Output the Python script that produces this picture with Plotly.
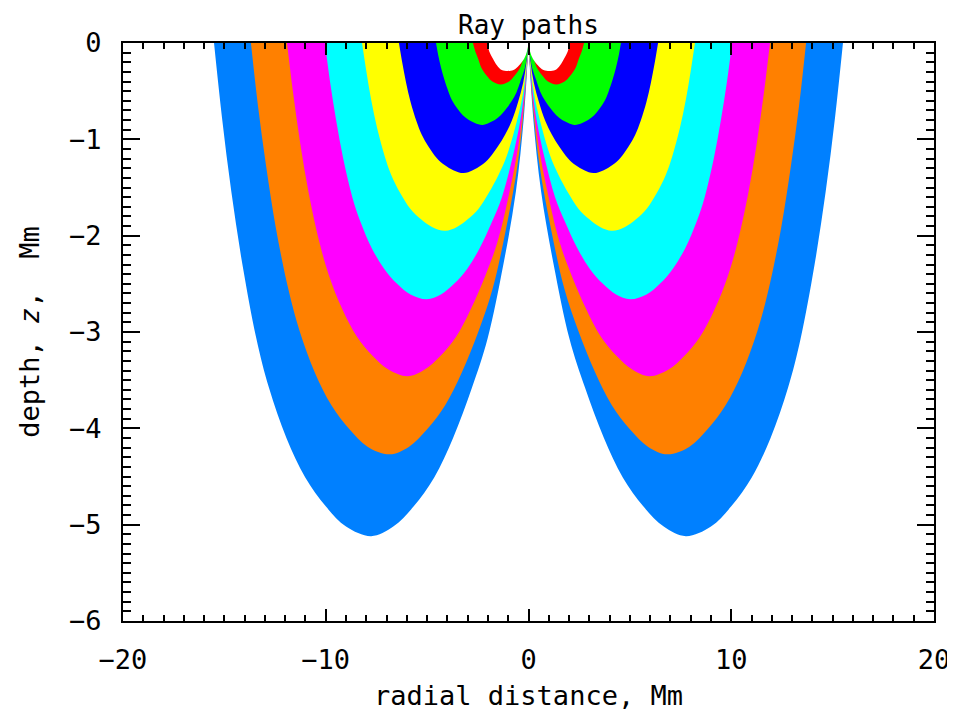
import plotly.graph_objects as go

# ---- data: right-half boundary ray of each colour band (x = radial distance, z = depth, Mm);
#      the left half of the figure is the mirror image ----
band_colors = ["#0080FF", "#FF8000", "#FF00FF", "#00FFFF", "#FFFF00", "#0000FF", "#00FF00", "#FF0000", "#FFFFFF"]

ray_lb_x = [0, 0.23, 0.62, 1.24, 2.02, 2.79, 3.72, 4.65, 5.66, 6.67, 7.76, 9.00, 10.00, 11.01, 11.94, 12.80, 13.42, 14.11, 14.66, 15.12, 15.51]
ray_lb_z = [0, -0.77, -1.54, -2.30, -3.07, -3.58, -4.10, -4.51, -4.81, -5.02, -5.12, -5.02, -4.81, -4.51, -4.10, -3.58, -3.07, -2.30, -1.54, -0.77, 0]

ray_or_x = [0, 0.21, 0.55, 1.10, 1.78, 2.46, 3.29, 4.11, 5.00, 5.89, 6.85, 7.94, 8.83, 9.72, 10.54, 11.29, 11.84, 12.46, 12.94, 13.35, 13.69]
ray_or_z = [0, -0.64, -1.28, -1.92, -2.56, -2.99, -3.42, -3.76, -4.01, -4.19, -4.27, -4.19, -4.01, -3.76, -3.42, -2.99, -2.56, -1.92, -1.28, -0.64, 0]

ray_mg_x = [0, 0.18, 0.48, 0.95, 1.55, 2.14, 2.86, 3.57, 4.35, 5.12, 5.96, 6.91, 7.68, 8.46, 9.17, 9.83, 10.30, 10.84, 11.26, 11.61, 11.91]
ray_mg_z = [0, -0.52, -1.04, -1.56, -2.08, -2.42, -2.77, -3.05, -3.25, -3.39, -3.46, -3.39, -3.25, -3.05, -2.77, -2.42, -2.08, -1.56, -1.04, -0.52, 0]

ray_cy_x = [0, 0.15, 0.40, 0.80, 1.31, 1.81, 2.41, 3.01, 3.67, 4.32, 5.02, 5.82, 6.48, 7.13, 7.73, 8.28, 8.69, 9.14, 9.49, 9.79, 10.04]
ray_cy_z = [0, -0.40, -0.80, -1.20, -1.60, -1.86, -2.13, -2.34, -2.50, -2.61, -2.66, -2.61, -2.50, -2.34, -2.13, -1.86, -1.60, -1.20, -0.80, -0.40, 0]

ray_ye_x = [0, 0.12, 0.33, 0.66, 1.07, 1.48, 1.97, 2.46, 3.00, 3.53, 4.11, 4.76, 5.30, 5.83, 6.32, 6.77, 7.10, 7.47, 7.76, 8.00, 8.21]
ray_ye_z = [0, -0.29, -0.59, -0.88, -1.17, -1.37, -1.56, -1.72, -1.83, -1.91, -1.95, -1.91, -1.83, -1.72, -1.56, -1.37, -1.17, -0.88, -0.59, -0.29, 0]

ray_bl_x = [0, 0.10, 0.26, 0.51, 0.83, 1.15, 1.53, 1.92, 2.33, 2.75, 3.20, 3.71, 4.12, 4.54, 4.92, 5.27, 5.53, 5.82, 6.04, 6.23, 6.39]
ray_bl_z = [0, -0.20, -0.41, -0.61, -0.81, -0.95, -1.08, -1.19, -1.27, -1.32, -1.35, -1.32, -1.27, -1.19, -1.08, -0.95, -0.81, -0.61, -0.41, -0.20, 0]

ray_gr_x = [0, 0.07, 0.18, 0.37, 0.59, 0.82, 1.09, 1.37, 1.66, 1.96, 2.28, 2.65, 2.94, 3.24, 3.51, 3.76, 3.94, 4.15, 4.31, 4.45, 4.56]
ray_gr_z = [0, -0.13, -0.26, -0.38, -0.51, -0.60, -0.68, -0.75, -0.80, -0.83, -0.85, -0.83, -0.80, -0.75, -0.68, -0.60, -0.51, -0.38, -0.26, -0.13, 0]

ray_rd_x = [0, 0.12, 0.27, 0.42, 0.69, 0.96, 1.37, 1.78, 2.06, 2.32, 2.47, 2.62, 2.74]
ray_rd_z = [0, -0.09, -0.17, -0.26, -0.34, -0.40, -0.43, -0.40, -0.34, -0.26, -0.17, -0.09, 0]

ray_wh_x = [0, 0.08, 0.21, 0.46, 0.74, 1.03, 1.32, 1.56, 1.76, 1.93, 2.05]
ray_wh_z = [0, -0.09, -0.16, -0.23, -0.28, -0.29, -0.28, -0.23, -0.16, -0.09, 0]

rays_x = [ray_lb_x, ray_or_x, ray_mg_x, ray_cy_x, ray_ye_x, ray_bl_x, ray_gr_x, ray_rd_x, ray_wh_x]
rays_z = [ray_lb_z, ray_or_z, ray_mg_z, ray_cy_z, ray_ye_z, ray_bl_z, ray_gr_z, ray_rd_z, ray_wh_z]

x_ticks = [-20, -10, 0, 10, 20]
y_ticks = [-6, -5, -4, -3, -2, -1, 0]

FONT = "DejaVu Sans Mono"

fig = go.Figure()
for col, rx, rz in zip(band_colors, rays_x, rays_z):
    xs = [-v for v in rx] + [None] + list(rx)
    zs = list(rz) + [None] + list(rz)
    fig.add_trace(go.Scatter(
        x=xs, y=zs, mode="lines", fill="toself", fillcolor=col,
        line=dict(color=col, width=0, shape="spline", smoothing=1.0),
        hoverinfo="skip", showlegend=False,
    ))

axis_common = dict(
    showgrid=False, zeroline=False, showline=True, linecolor="black", linewidth=2,
    mirror="ticks", ticks="inside", tickcolor="black", tickwidth=1.5, automargin=False,
    tickfont=dict(family=FONT, size=27, color="black"),
)

fig.update_xaxes(
    range=[-20, 20], tickvals=x_ticks, ticklen=12,
    minor=dict(ticks="inside", ticklen=6, dtick=1, tickwidth=1.5, tickcolor="black", showgrid=False),
    title=dict(text="radial distance, Mm", font=dict(family=FONT, size=27, color="black"), standoff=12),
    ticklabelstandoff=14,
    **axis_common,
)
fig.update_yaxes(
    range=[-6, 0], tickvals=y_ticks, ticklen=17,
    minor=dict(ticks="inside", ticklen=8, dtick=0.1, tickwidth=1.5, tickcolor="black", showgrid=False),
    title=dict(text="depth, <i>z</i>,  Mm", font=dict(family=FONT, size=27, color="black"), standoff=22),
    ticklabelstandoff=14,
    **axis_common,
)

fig.update_layout(
    width=955, height=715,
    margin=dict(l=115, r=29, t=35, b=102, autoexpand=False),
    paper_bgcolor="white", plot_bgcolor="white",
    title=dict(text="Ray paths", x=0.5, xref="paper", y=1 - 17 / 715, yref="container",
               xanchor="center", yanchor="middle", pad=dict(t=0, b=0),
               font=dict(family=FONT, size=26, color="black")),
)

fig.write_html("out.html")
